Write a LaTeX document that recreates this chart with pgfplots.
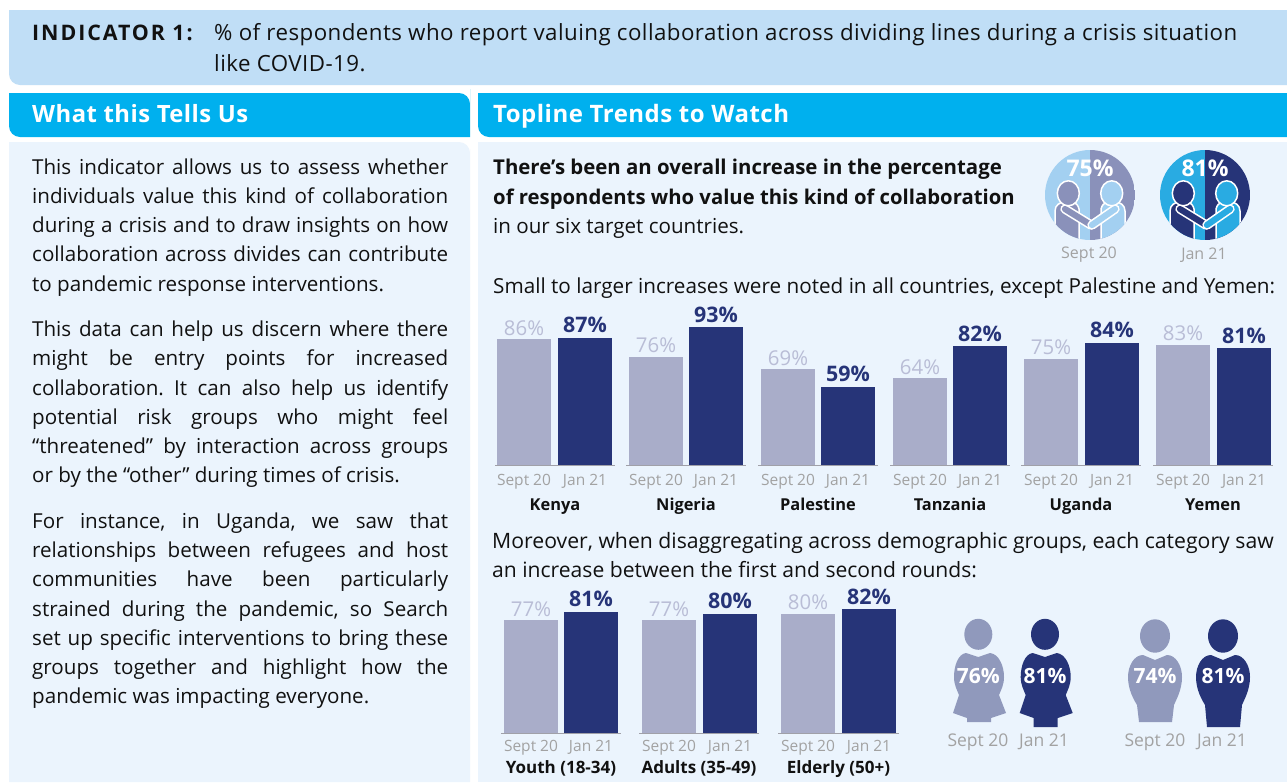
\documentclass[border=0pt]{standalone}
\usepackage{fontspec}
\usepackage{pgfplots}
\pgfplotsset{compat=1.18}
\setmainfont{Open Sans}
\frenchspacing
\definecolor{band}{HTML}{C0DEF6}
\definecolor{head}{HTML}{00B0EE}
\definecolor{panel}{HTML}{EBF4FD}
\definecolor{septbar}{HTML}{A9ADC9}
\definecolor{janbar}{HTML}{263478}
\definecolor{septlab}{HTML}{B9BDD6}
\definecolor{grey}{HTML}{A2A2A2}
\definecolor{axisg}{HTML}{A0A0A8}
\definecolor{txt}{HTML}{111111}
\definecolor{lightc}{HTML}{A3D0F1}
\definecolor{midc}{HTML}{8A91BA}
\definecolor{cyanc}{HTML}{29ABE2}
\definecolor{iconl}{HTML}{9099BC}
\newcommand{\fs}[1]{\fontsize{#1}{#1}\selectfont}
\newcommand{\J}[2]{\node[anchor=base west,inner sep=0pt,text=txt] at (32,#1) {\fs{20.6}\frenchspacing\makebox[416pt][s]{#2}};}
\newcommand{\U}[2]{\node[anchor=base west,inner sep=0pt,text=txt] at (32,#1) {\fs{20.6}#2};}
\newcommand{\R}[4]{\node[anchor=base west,inner sep=0pt,text=txt] at (#1,#2) {\fs{#3}#4};}
\pgfplotsset{
  barpanel/.style={
    at={(#1)}, anchor=south west, scale only axis,
    axis x line=bottom, axis y line=none, clip=false,
    x axis line style={-, draw=axisg, line width=1pt},
    major tick length=0pt, ymax=100,
    point meta=y,
    /pgf/number format/assume math mode=true,
    nodes near coords={\pgfmathprintnumber{\pgfplotspointmeta}\%},
    ytick=\empty
  },
  sept/.style={ybar, bar shift=0pt, bar width=54pt, fill=septbar, draw=none,
    every node near coord/.append style={anchor=base, yshift=4pt, inner sep=0pt, text=septlab, font=\fs{20.4}}},
  jan/.style={ybar, bar shift=0pt, bar width=54pt, fill=janbar, draw=none,
    every node near coord/.append style={anchor=base, yshift=5pt, inner sep=0pt, text=janbar, font=\bfseries\fs{21.4}}},
}
\newcommand{\rowone}[7]{%
\begin{axis}[barpanel={#1pt,-465pt}, width=#2pt, height=150.3pt, xmin=0, xmax=#2, ymin=14.6,
  xtick={#3,#4}, xticklabels={Sept 20,Jan 21},
  xticklabel style={anchor=base, yshift=-20pt, text=grey, font=\fs{15.5}, inner sep=0pt},
  xlabel={#7},
  xlabel style={at={(axis description cs:0.5,0)}, anchor=base, yshift=-45pt, inner sep=0pt, text=txt, font=\bfseries\fs{16.4}}]
\addplot[sept] coordinates {(#3,#5)};
\addplot[jan] coordinates {(#4,#6)};
\end{axis}}
\newcommand{\rowtwo}[7]{%
\begin{axis}[barpanel={#1pt,-733pt}, width=#2pt, height=163.24pt, xmin=0, xmax=#2, ymin=25.8,
  xtick={#3,#4}, xticklabels={Sept 20,Jan 21},
  xticklabel style={anchor=base, yshift=-18pt, text=grey, font=\fs{15.5}, inner sep=0pt},
  xlabel={#7},
  xlabel style={at={(axis description cs:0.5,0)}, anchor=base, yshift=-40pt, inner sep=0pt, text=txt, font=\bfseries\fs{17}}]
\addplot[sept] coordinates {(#3,#5)};
\addplot[jan] coordinates {(#4,#6)};
\end{axis}}
\newcommand{\shake}[4]{%
\begin{scope}[shift={(#1,195)}]
\begin{scope}
\clip (0,0) circle (45);
\fill[#2] (-45,-45) rectangle (0,45);
\fill[#3] (0,-45) rectangle (45,45);
\draw[white,line width=1.5pt,fill=#3] (-35,50) -- (-35,16) .. controls (-35,10) and (-30,7) .. (-25,7) -- (-17,7) .. controls (-14,8) and (-12,10) .. (-11,14) -- (-11,50) -- cycle;
\draw[white,line width=1.5pt,fill=#2] (35,50) -- (35,16) .. controls (35,10) and (30,7) .. (25,7) -- (17,7) .. controls (14,8) and (12,10) .. (11,14) -- (11,50) -- cycle;
\draw[white,line width=9.4pt,line cap=round] (-25,14) -- (1,30);
\draw[#3,line width=6.2pt,line cap=round] (-25,14) -- (1,30);
\draw[white,line width=9.4pt,line cap=round] (25,14) -- (2,30);
\draw[#2,line width=6.2pt,line cap=round] (25,14) -- (2,30);
\draw[white,line width=1.5pt,fill=#3] (-21.7,-1.7) ellipse (11 and 12.5);
\draw[white,line width=1.5pt,fill=#2] (21.7,-1.7) ellipse (11 and 12.5);
\end{scope}
\node[text=white,font=\bfseries\fs{23},inner sep=0pt] at (0,-27) {#4};
\end{scope}}
\newcommand{\woman}[4]{%
\begin{scope}[shift={(#1,0)}]
\fill[#2] (978.3,634.3) ellipse (14 and 15.5);
\fill[#2] (966,653) -- (978.3,657) -- (990,653) .. controls (999,654) and (1004,666) .. (1004,677) .. controls (1004,685) and (1001,690) .. (999,695) -- (1006,713) -- (991,718) -- (991,#3) -- (967,#3) -- (967,718) -- (953,713) -- (959,695) .. controls (957,690) and (954,685) .. (954,677) .. controls (954,666) and (958,654) .. (966,653) -- cycle;
\node[text=white,font=\bfseries\fs{21},inner sep=0pt] at (978.3,676) {#4};
\end{scope}}
\newcommand{\man}[4]{%
\begin{scope}[shift={(#1,0)}]
\fill[#2] (1155,636) ellipse (15 and 16.7);
\fill[#2] (1143,655) -- (1155,660) -- (1167,655) .. controls (1176,655) and (1182,666) .. (1182,677) .. controls (1182,690) and (1176,700) .. (1174,705) -- (1172,#3) -- (1139,#3) -- (1137,705) .. controls (1134,700) and (1128,690) .. (1128,677) .. controls (1128,666) and (1134,655) .. (1143,655) -- cycle;
\node[text=white,font=\bfseries\fs{21},inner sep=0pt] at (1155,676) {#4};
\end{scope}}
\begin{document}
\begin{tikzpicture}[x=1pt,y=-1pt]
\useasboundingbox (0,0) rectangle (1287,782);
\fill[white] (0,0) rectangle (1287,782);
\fill[band] (9,10) -- (1287,10) -- (1287,85) [rounded corners=11pt] -- (9,85) [sharp corners] -- cycle;
\fill[head] (9,93) [rounded corners=11pt] -- (470,93) -- (470,100) [sharp corners] -- (470,137) [rounded corners=11pt] -- (9,137) [sharp corners] -- cycle;
\fill[head] (478,93) -- (1287,93) -- (1287,137) [rounded corners=11pt] -- (478,137) [sharp corners] -- cycle;
\fill[panel] (9,142) [rounded corners=11pt] -- (470,142) -- (470,160) [sharp corners] -- (470,782) -- (9,782) -- cycle;
\fill[panel] (478,142) -- (1287,142) -- (1287,782) -- (478,782) -- cycle;
\node[anchor=base west,inner sep=0pt,text=txt] at (32,40) {\bfseries\fs{21.4}\addfontfeature{LetterSpace=9}INDICATOR 1:};
\node[anchor=base west,inner sep=0pt,text=txt] at (214,40) {\fs{22.3}\addfontfeature{LetterSpace=2}\% of respondents who report valuing collaboration across dividing lines during a crisis situation};
\node[anchor=base west,inner sep=0pt,text=txt] at (214,71) {\fs{22.3}\addfontfeature{LetterSpace=2}like COVID-19.};
\node[anchor=base west,inner sep=0pt,text=white] at (32,122) {\bfseries\fs{23.8}\addfontfeature{LetterSpace=2}What this Tells Us};
\node[anchor=base west,inner sep=0pt,text=white] at (493,122) {\bfseries\fs{24}\addfontfeature{LetterSpace=2}Topline Trends to Watch};
\J{174}{This indicator allows us to assess whether}
\J{203}{individuals value this kind of collaboration}
\J{232}{during a crisis and to draw insights on how}
\J{261}{collaboration across divides can contribute}
\U{291}{to pandemic response interventions.}
\J{336}{This data can help us discern where there}
\J{365}{might be entry points for increased}
\J{395}{collaboration. It can also help us identify}
\J{424}{potential risk groups who might feel}
\J{453}{“threatened” by interaction across groups}
\U{482}{or by the “other” during times of crisis.}
\J{528}{For instance, in Uganda, we saw that}
\J{557}{relationships between refugees and host}
\J{586}{communities have been particularly}
\J{616}{strained during the pandemic, so Search}
\J{645}{set up specific interventions to bring these}
\J{674}{groups together and highlight how the}
\U{703}{pandemic was impacting everyone.}
\node[anchor=base west,inner sep=0pt,text=txt] at (493,174) {\bfseries\fs{20.4}There’s been an overall increase in the percentage};
\node[anchor=base west,inner sep=0pt,text=txt] at (493,204) {\bfseries\fs{20.3}of respondents who value this kind of collaboration};
\R{493}{233}{20.6}{in our six target countries.}
\R{493}{293}{20.7}{Small to larger increases were noted in all countries, except Palestine and Yemen:}
\R{492}{548}{21.2}{Moreover, when disaggregating across demographic groups, each category saw}
\R{492}{577}{21.1}{an increase between the first and second rounds:}
\rowone{495}{120}{29}{90}{86}{87}{Kenya}
\rowone{626}{120}{30}{90}{76}{93}{Nigeria}
\rowone{758}{120}{30}{90}{69}{59}{Palestine}
\rowone{890}{120}{30}{90}{64}{82}{Tanzania}
\rowone{1021}{120}{30}{91}{75}{84}{Uganda}
\rowone{1153}{120}{30}{91}{83}{81}{Yemen}
\rowtwo{501}{120}{30}{90}{77}{81}{Youth (18-34)}
\rowtwo{639}{120}{30}{91}{77}{80}{Adults (35-49)}
\rowtwo{778}{121}{30}{91}{80}{82}{Elderly (50+)}
\shake{1090}{lightc}{midc}{75\%}
\shake{1205}{cyanc}{janbar}{81\%}
\node[text=grey,font=\fs{16},inner sep=0pt] at (1089,255) {Sept 20};
\node[text=grey,font=\fs{16},inner sep=0pt] at (1204,255) {Jan 21};
\woman{0}{iconl}{722}{76\%}
\woman{66.7}{janbar}{727}{81\%}
\man{0}{iconl}{722}{74\%}
\man{68}{janbar}{727}{81\%}
\node[text=grey,font=\fs{17.5},inner sep=0pt] at (978,742) {Sept 20};
\node[text=grey,font=\fs{17.5},inner sep=0pt] at (1044,742) {Jan 21};
\node[text=grey,font=\fs{17.5},inner sep=0pt] at (1155,742) {Sept 20};
\node[text=grey,font=\fs{17.5},inner sep=0pt] at (1222,742) {Jan 21};
\end{tikzpicture}
\end{document}
